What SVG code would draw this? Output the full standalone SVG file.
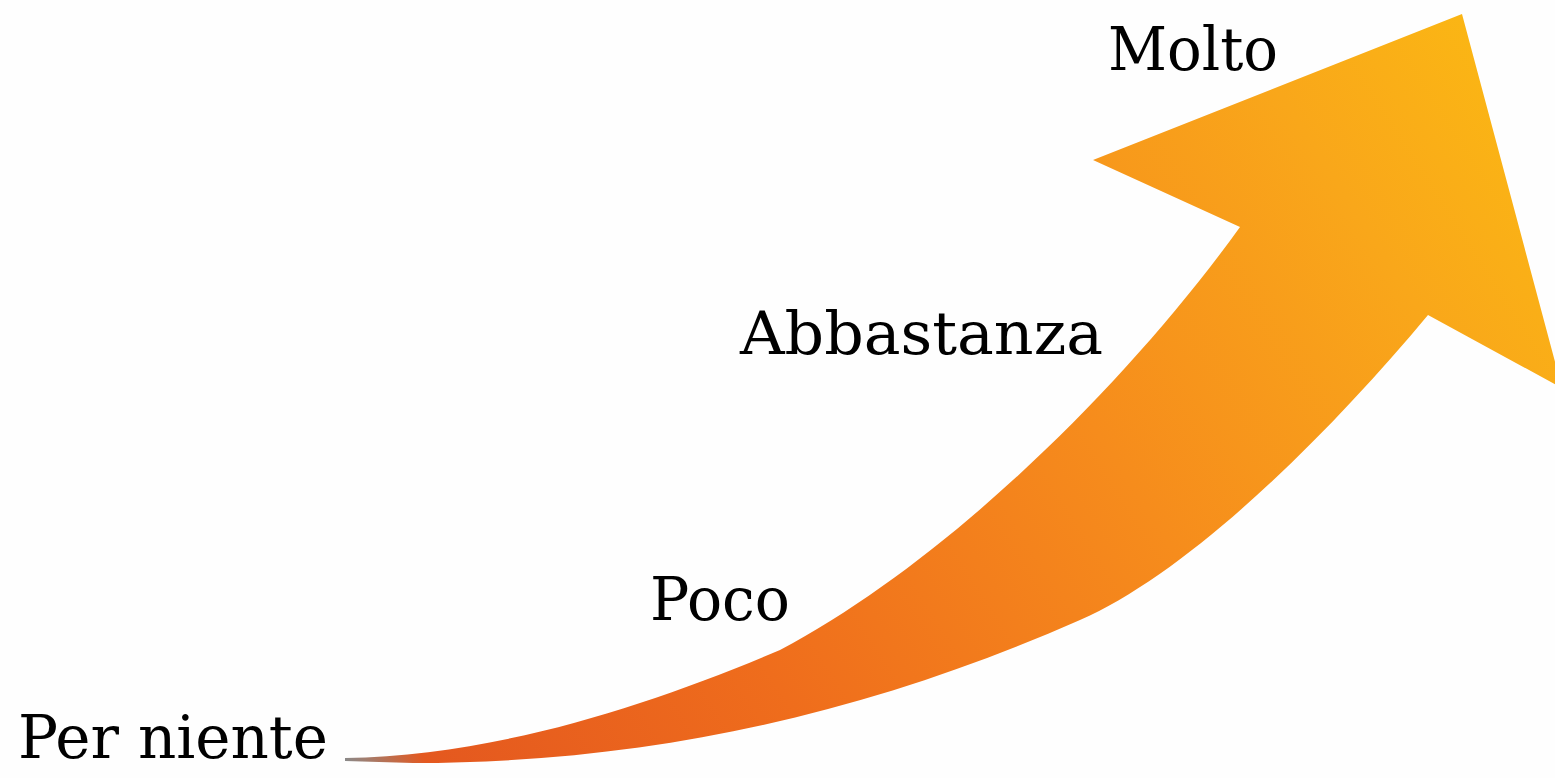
<svg xmlns="http://www.w3.org/2000/svg" width="1555" height="778" viewBox="0 0 1555 778">
  <defs>
    <linearGradient id="arrowGrad" gradientUnits="userSpaceOnUse" x1="345" y1="760" x2="1480" y2="30">
      <stop offset="0" stop-color="#8a8a8a"/>
      <stop offset="0.05" stop-color="#e4581f"/>
      <stop offset="0.3" stop-color="#ef6d1c"/>
      <stop offset="0.6" stop-color="#f68c1c"/>
      <stop offset="0.85" stop-color="#f9a71a"/>
      <stop offset="1" stop-color="#fbb614"/>
    </linearGradient>
    <style>
      .lbl { font-family: "DejaVu Serif", "Liberation Serif", serif; font-size: 60px; fill: #000; }
    </style>
  </defs>
  <rect x="0" y="0" width="1555" height="778" fill="#fefefe"/>
  <g id="arrow">
    <path d="M 345 758 C 500 755, 650 705, 780 650 C 950 560, 1130 380, 1240 227 L 1093 160 L 1462 14 L 1562 388 L 1428 315 C 1328 435, 1190 572, 1080 620 C 880 708, 663 763, 413 763 L 345 761 Z" fill="url(#arrowGrad)"/>
  </g>
  <g id="label-molto"><text class="lbl" x="1108" y="70" textLength="170" lengthAdjust="spacingAndGlyphs">Molto</text></g>
  <g id="label-abbastanza"><text class="lbl" x="740" y="354" textLength="363" lengthAdjust="spacingAndGlyphs">Abbastanza</text></g>
  <g id="label-poco"><text class="lbl" x="650" y="620" textLength="140" lengthAdjust="spacingAndGlyphs">Poco</text></g>
  <g id="label-per-niente"><text class="lbl" x="18" y="758" textLength="310" lengthAdjust="spacingAndGlyphs">Per niente</text></g>
</svg>
